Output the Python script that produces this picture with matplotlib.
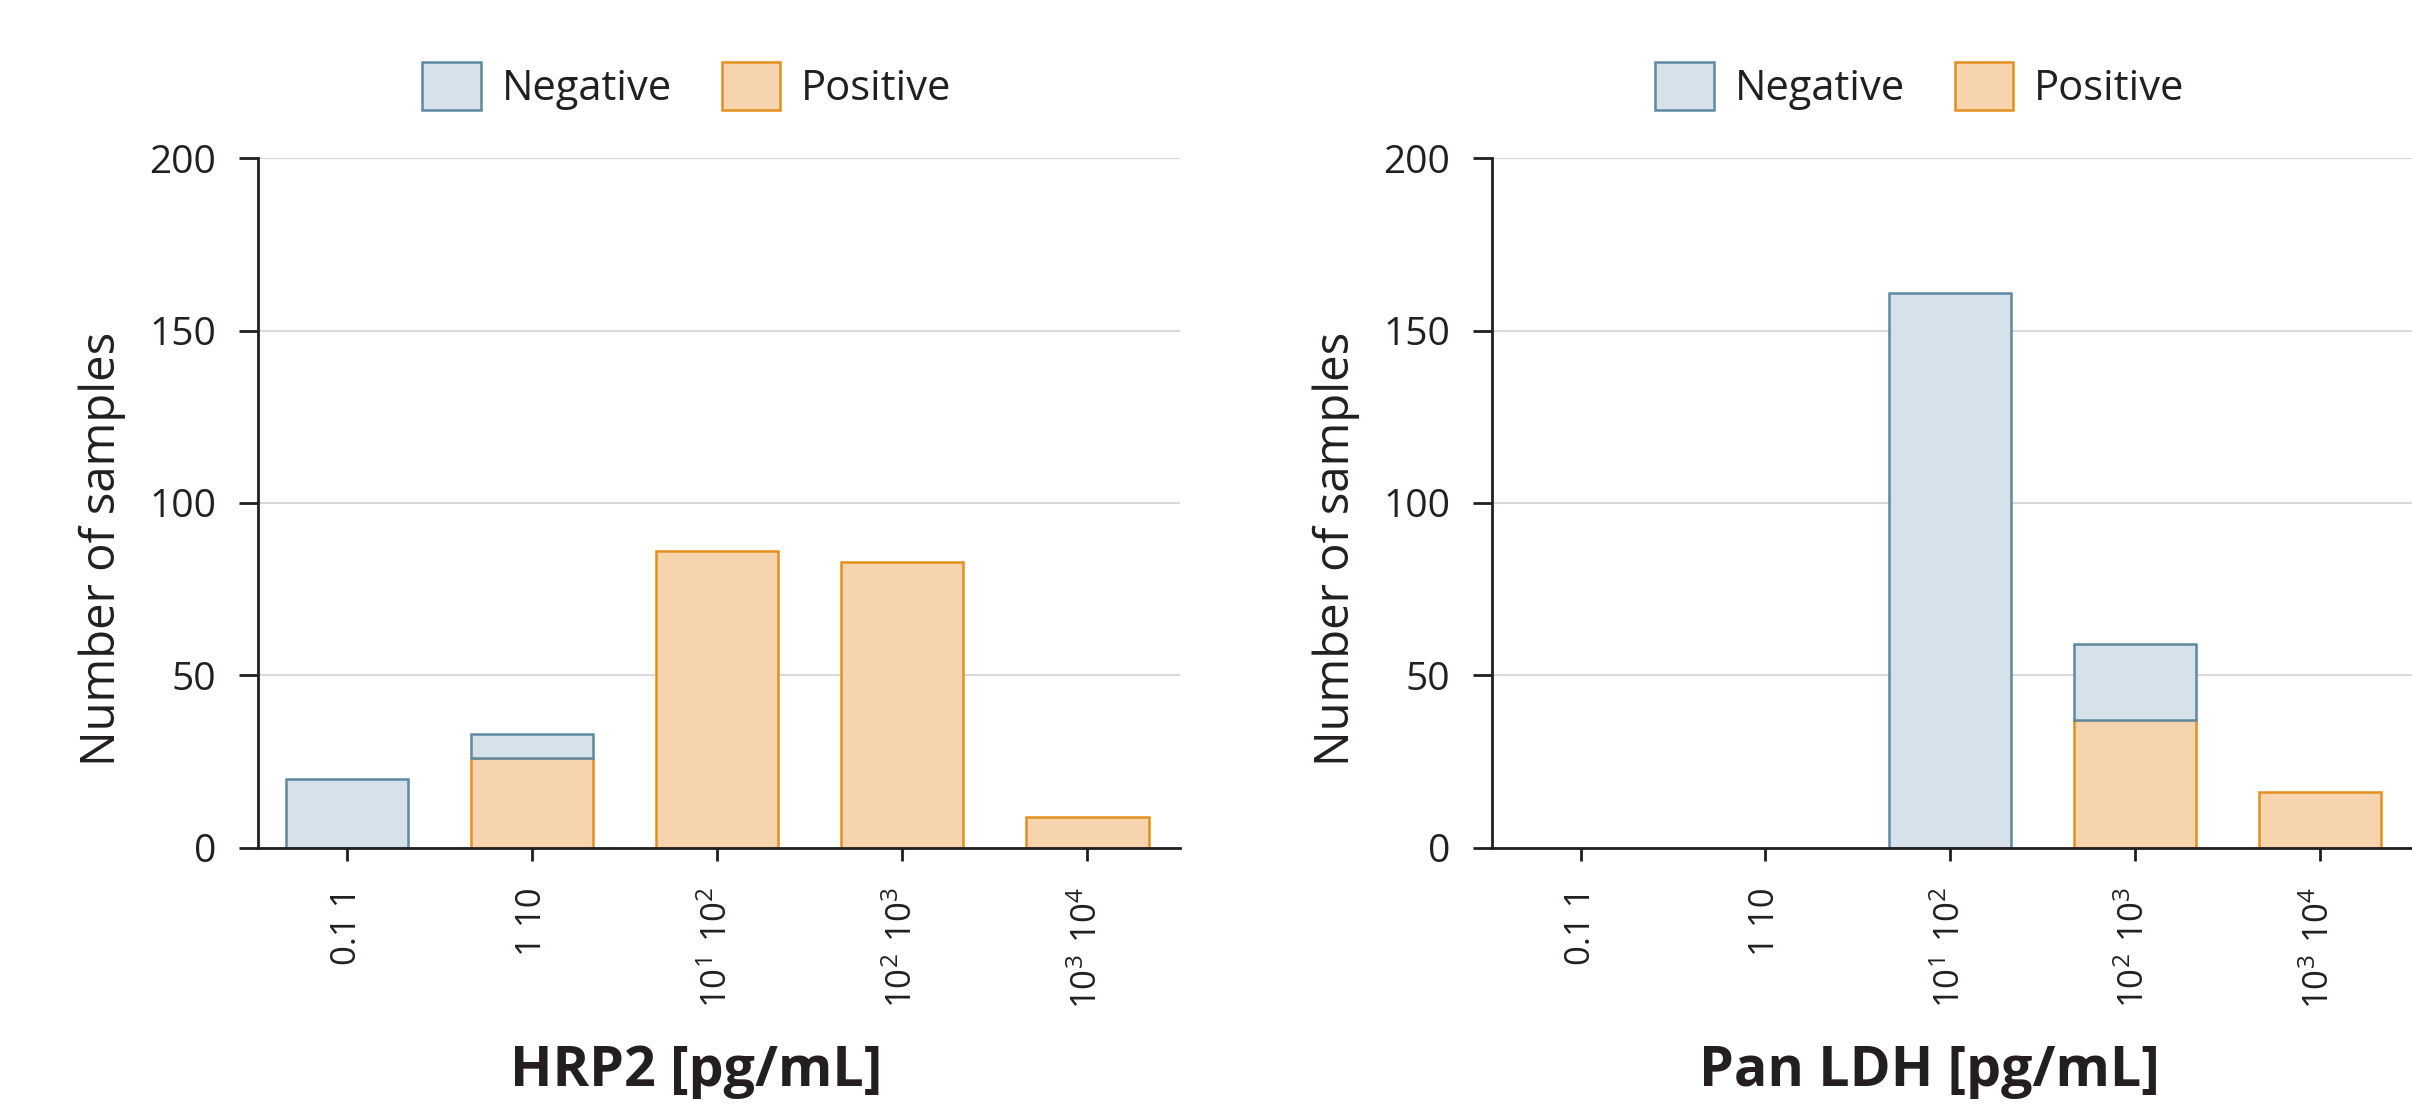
import matplotlib
matplotlib.use('Agg')
import matplotlib.pyplot as plt
from matplotlib.patches import Patch

# data
bins = ['0.1 1', '1 10',
        r'$\mathregular{10^1\ 10^2}$',
        r'$\mathregular{10^2\ 10^3}$',
        r'$\mathregular{10^3\ 10^4}$']
hrp2_positive = [0, 26, 86, 83, 9]
hrp2_negative = [20, 7, 0, 0, 0]
ldh_positive = [0, 0, 0, 37, 16]
ldh_negative = [0, 0, 161, 22, 0]
xlabels = ['HRP2 [pg/mL]', 'Pan LDH [pg/mL]']

neg_fill, neg_edge = '#d6e1ea', '#5f88a3'
pos_fill, pos_edge = '#f6d5ae', '#e38f1f'
ink = '#231f20'

plt.rcParams['font.family'] = ['Open Sans', 'DejaVu Sans']
plt.rcParams['mathtext.fontset'] = 'custom'
plt.rcParams['mathtext.rm'] = 'Open Sans'
plt.rcParams['text.color'] = ink


def draw_panel(ax, positive, negative, xlabel):
    x = list(range(len(bins)))
    for i in x:
        if positive[i] > 0:
            ax.bar(i, positive[i], width=0.66, color=pos_fill,
                   edgecolor=pos_edge, linewidth=1.8, zorder=3)
        if negative[i] > 0:
            ax.bar(i, negative[i], bottom=positive[i], width=0.66,
                   color=neg_fill, edgecolor=neg_edge, linewidth=1.8, zorder=3)

    ax.set_xlim(-0.48, 4.5)
    ax.set_ylim(0, 200)
    ax.set_yticks([0, 50, 100, 150, 200])
    ax.set_xticks(x)
    ax.set_xticklabels(bins, rotation=90, fontsize=25, color=ink)
    ax.tick_params(axis='y', labelsize=28, length=14, width=2, pad=16,
                   colors=ink, direction='out')
    ax.tick_params(axis='x', length=9.5, width=2, pad=19, colors=ink,
                   direction='out')
    ax.grid(axis='y', color='#d4d4d4', linewidth=1.3, zorder=0)
    ax.set_axisbelow(True)

    for side in ['top', 'right']:
        ax.spines[side].set_visible(False)
    for side in ['left', 'bottom']:
        ax.spines[side].set_linewidth(2)
        ax.spines[side].set_color(ink)
        ax.spines[side].set_zorder(4)

    ax.set_ylabel('Number of samples', fontsize=34, color=ink)
    ax.yaxis.set_label_coords(-0.143, 0.433)
    ax.set_xlabel(xlabel, fontsize=40, fontweight='bold', color=ink)
    ax.xaxis.set_label_coords(0.475, -0.285)

    handles = [Patch(facecolor=neg_fill, edgecolor=neg_edge, linewidth=1.8, label='Negative'),
               Patch(facecolor=pos_fill, edgecolor=pos_edge, linewidth=1.8, label='Positive')]
    ax.legend(handles=handles, loc='center', bbox_to_anchor=(0.465, 1.105),
              ncol=2, frameon=False, fontsize=30, handlelength=1.4,
              handleheight=1.4, handletextpad=0.5, columnspacing=1.2,
              borderaxespad=0)


def main():
    fig = plt.figure(figsize=(24.12, 11.14), dpi=100)
    ax1 = fig.add_axes([258 / 2412, 0.2392, (1180 - 258) / 2412, 0.6186])
    ax2 = fig.add_axes([1492 / 2412, 0.2392, (2412 - 1492) / 2412, 0.6186])

    draw_panel(ax1, hrp2_positive, hrp2_negative, xlabels[0])
    draw_panel(ax2, ldh_positive, ldh_negative, xlabels[1])

    fig.savefig('out.png', dpi=100, facecolor='white')


if __name__ == '__main__':
    main()
